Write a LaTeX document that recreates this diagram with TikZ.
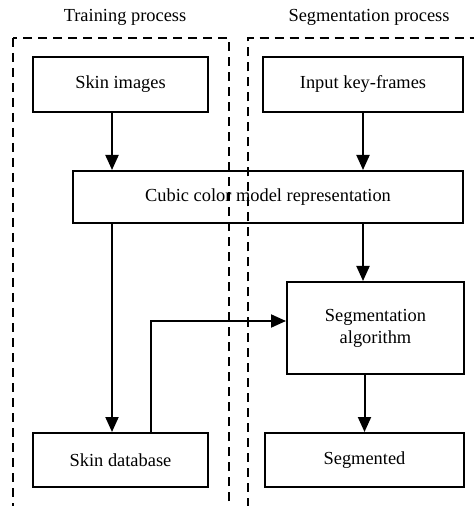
\documentclass[tikz,border=0pt]{standalone}
\usepackage{fontspec}
\setmainfont{Liberation Serif}
\usetikzlibrary{arrows.meta}
\tikzset{
    box/.style={draw, line width=1pt, inner sep=2pt, align=center}, % rectangular process blocks
    arrow/.style={line width=1pt, -{Triangle[length=7.5pt,width=6.5pt]}}, % connectors
    panel/.style={line width=0.8pt, dash pattern=on 4.5pt off 3pt}, % dashed frames
}

\begin{document}
\begin{tikzpicture}[x=0.5pt, y=-0.5pt, font=\fontsize{9.2}{11}\selectfont]
        \useasboundingbox (0,0) rectangle (473,506);

        % Cornici tratteggiate e titoli
        \draw[panel] (13,38) rectangle (229,506.5);
        \draw[panel] (248,506.5) -- (248,38) -- (480,38);
        \node (traintitle) at (125,17) {Training process};
        \node (segtitle) at (369,17) {Segmentation process};

        % Blocchi
        \node[box, minimum width=87.5pt, minimum height=27.5pt] (skinimg) at (120.5,84.5) {Skin images};
        \node[box, minimum width=100pt, minimum height=27.5pt] (inputkf) at (363,84.5) {Input key-frames};
        \node[box, minimum width=195pt, minimum height=26pt] (cubic) at (268,197) {Cubic color model representation};
        \node[box, minimum width=88.5pt, minimum height=46pt] (segalg) at (375.5,328) {Segmentation\\algorithm};
        \node[box, minimum width=87.5pt, minimum height=27pt] (skindb) at (120.5,460) {Skin database};
        \node[box, minimum width=99.5pt, minimum height=27pt] (segmented) at (364.5,460) {Segmented};

        % Frecce
        \draw[arrow] ([xshift=-4.25pt]skinimg.south) -- ([xshift=-4.25pt]skinimg.south |- cubic.north);
        \draw[arrow] (inputkf.south) -- (inputkf.south |- cubic.north);
        \draw[arrow] ([xshift=-4.25pt]skinimg.south |- cubic.south) -- ([xshift=-4.25pt]skindb.north);
        \draw[arrow] (inputkf.south |- cubic.south) -- (inputkf.south |- segalg.north);
        \draw[arrow] ([xshift=15.25pt]skindb.north) |- ([yshift=3.5pt]segalg.west);
        \draw[arrow] (segmented.north |- segalg.south) -- (segmented.north);
    \end{tikzpicture}
\end{document}
